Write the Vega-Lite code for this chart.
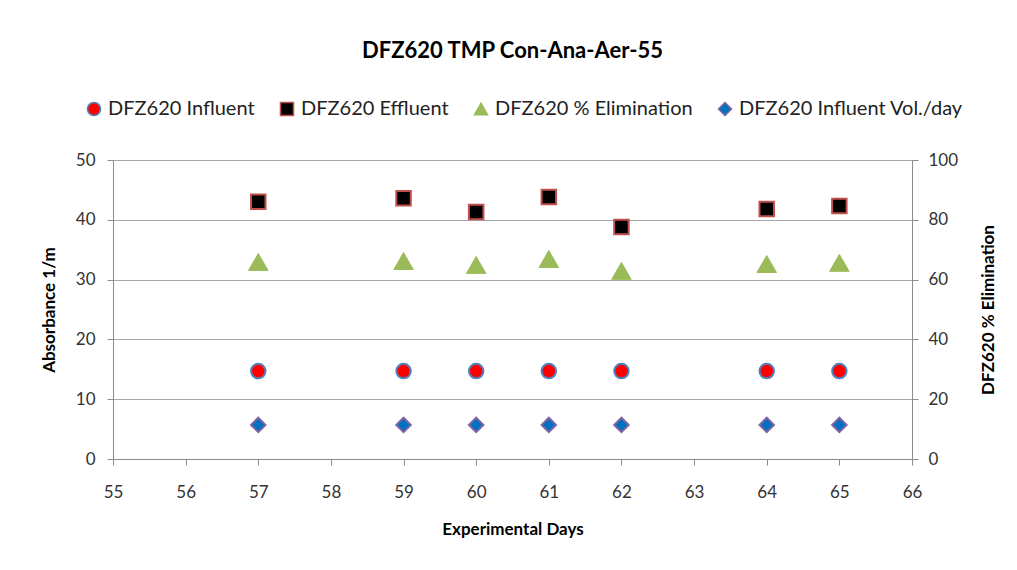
{
  "$schema": "https://vega.github.io/schema/vega-lite/v6.json",
  "autosize": {"type": "none"},
  "width": 799,
  "height": 299,
  "padding": {"left": 113, "top": 160, "right": 105, "bottom": 111},
  "background": "white",
  "title": {
    "text": "DFZ620 TMP Con-Ana-Aer-55",
    "font": "Lato",
    "fontSize": 22,
    "fontWeight": "bold",
    "color": "#000000",
    "anchor": "middle",
    "offset": 36
  },
  "config": {
    "view": {"stroke": null},
    "font": "Lato",
    "axis": {
      "labelFont": "Lato",
      "labelFontSize": 17,
      "labelColor": "#333333",
      "titleFont": "Lato",
      "titleFontSize": 17,
      "titleFontWeight": "bold",
      "titleColor": "#000000",
      "domainColor": "#8C8C8C",
      "tickColor": "#8C8C8C",
      "gridColor": "#A6A6A6",
      "tickSize": 6
    },
    "legend": {
      "labelFont": "Lato",
      "labelFontSize": 20,
      "labelColor": "#222222",
      "labelLimit": 400
    }
  },
  "data": {
    "values": [
      {"day": 57, "series": "DFZ620 Influent", "value": 14.7},
      {"day": 59, "series": "DFZ620 Influent", "value": 14.7},
      {"day": 60, "series": "DFZ620 Influent", "value": 14.7},
      {"day": 61, "series": "DFZ620 Influent", "value": 14.7},
      {"day": 62, "series": "DFZ620 Influent", "value": 14.7},
      {"day": 64, "series": "DFZ620 Influent", "value": 14.7},
      {"day": 65, "series": "DFZ620 Influent", "value": 14.7},
      {"day": 57, "series": "DFZ620 Effluent", "value": 43.0},
      {"day": 59, "series": "DFZ620 Effluent", "value": 43.6},
      {"day": 60, "series": "DFZ620 Effluent", "value": 41.3},
      {"day": 61, "series": "DFZ620 Effluent", "value": 43.8},
      {"day": 62, "series": "DFZ620 Effluent", "value": 38.8},
      {"day": 64, "series": "DFZ620 Effluent", "value": 41.8},
      {"day": 65, "series": "DFZ620 Effluent", "value": 42.3},
      {"day": 57, "series": "DFZ620 % Elimination", "value": 65.9},
      {"day": 59, "series": "DFZ620 % Elimination", "value": 66.2},
      {"day": 60, "series": "DFZ620 % Elimination", "value": 64.9},
      {"day": 61, "series": "DFZ620 % Elimination", "value": 66.9},
      {"day": 62, "series": "DFZ620 % Elimination", "value": 62.9},
      {"day": 64, "series": "DFZ620 % Elimination", "value": 65.2},
      {"day": 65, "series": "DFZ620 % Elimination", "value": 65.6},
      {"day": 57, "series": "DFZ620 Influent Vol./day", "value": 5.7},
      {"day": 59, "series": "DFZ620 Influent Vol./day", "value": 5.7},
      {"day": 60, "series": "DFZ620 Influent Vol./day", "value": 5.7},
      {"day": 61, "series": "DFZ620 Influent Vol./day", "value": 5.7},
      {"day": 62, "series": "DFZ620 Influent Vol./day", "value": 5.7},
      {"day": 64, "series": "DFZ620 Influent Vol./day", "value": 5.7},
      {"day": 65, "series": "DFZ620 Influent Vol./day", "value": 5.7}
    ]
  },
  "encoding": {
    "x": {
      "field": "day",
      "type": "quantitative",
      "scale": {"domain": [55, 66], "nice": false, "zero": false},
      "axis": {
        "title": "Experimental Days",
        "values": [55, 56, 57, 58, 59, 60, 61, 62, 63, 64, 65, 66],
        "grid": false,
        "labelFlush": false,
        "labelPadding": 19,
        "titlePadding": 21
      }
    },
    "color": {
      "field": "series",
      "type": "nominal",
      "scale": {
        "domain": ["DFZ620 Influent", "DFZ620 Effluent", "DFZ620 % Elimination", "DFZ620 Influent Vol./day"],
        "range": ["#FF0000", "#000000", "#9BBB59", "#0070C0"]
      },
      "legend": {
        "title": null,
        "orient": "none",
        "legendX": -29,
        "legendY": -61,
        "direction": "horizontal",
        "columns": 4,
        "columnPadding": 22,
        "symbolSize": 170,
        "labelOffset": 4,
        "symbolStrokeWidth": 1.5
      }
    },
    "shape": {
      "field": "series",
      "type": "nominal",
      "scale": {
        "domain": ["DFZ620 Influent", "DFZ620 Effluent", "DFZ620 % Elimination", "DFZ620 Influent Vol./day"],
        "range": ["circle", "square", "triangle-up", "diamond"]
      }
    },
    "stroke": {
      "field": "series",
      "type": "nominal",
      "scale": {
        "domain": ["DFZ620 Influent", "DFZ620 Effluent", "DFZ620 % Elimination", "DFZ620 Influent Vol./day"],
        "range": ["#4F81BD", "#C0504D", "#9BBB59", "#8064A2"]
      }
    }
  },
  "layer": [
    {
      "transform": [{"filter": "datum.series !== 'DFZ620 % Elimination'"}],
      "mark": {"type": "point", "filled": true, "size": 210, "strokeWidth": 2, "opacity": 1},
      "encoding": {
        "y": {
          "field": "value",
          "type": "quantitative",
          "scale": {"domain": [0, 50], "nice": false},
          "axis": {
            "title": "Absorbance 1/m",
            "values": [0, 10, 20, 30, 40, 50],
            "grid": true,
            "labelPadding": 12,
            "titlePadding": 17
          }
        }
      }
    },
    {
      "transform": [{"filter": "datum.series === 'DFZ620 % Elimination'"}],
      "mark": {"type": "point", "filled": true, "size": 380, "strokeWidth": 1, "opacity": 1},
      "encoding": {
        "y": {
          "field": "value",
          "type": "quantitative",
          "scale": {"domain": [0, 100], "nice": false},
          "axis": {
            "orient": "right",
            "title": "DFZ620 % Elimination",
            "titleAngle": -90,
            "values": [0, 20, 40, 60, 80, 100],
            "grid": false,
            "labelPadding": 10,
            "titlePadding": 40
          }
        }
      }
    }
  ],
  "resolve": {"scale": {"y": "independent"}}
}
